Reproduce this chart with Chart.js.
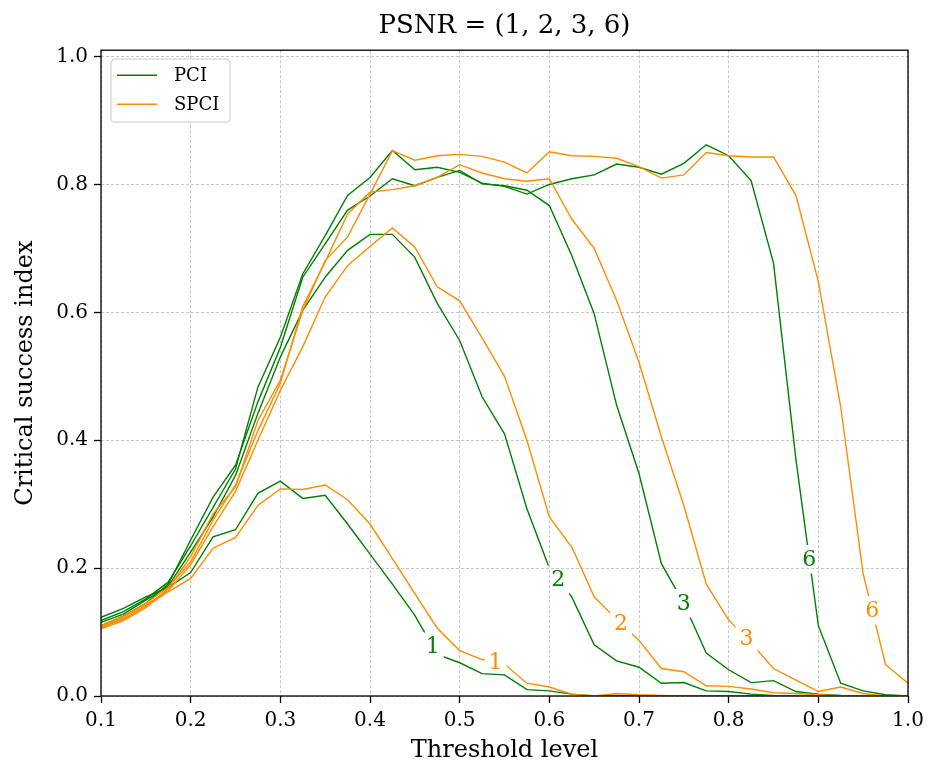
<!DOCTYPE html>
<html>
<head>
<meta charset="utf-8">
<title>PSNR = (1, 2, 3, 6)</title>
<script src="https://cdn.jsdelivr.net/npm/chart.js@4.4.1/dist/chart.umd.min.js"></script>
<style>
    html, body { margin: 0; padding: 0; background: #ffffff; }
    #wrap { width: 932px; height: 765px; }
</style>
</head>
<body>
<div id="wrap"><canvas id="lineChart" width="932" height="765"></canvas></div>
<script>
// threshold levels on the x axis
const thresholds = [
    0.1, 0.125, 0.15, 0.175, 0.2, 0.225, 0.25, 0.275, 0.3, 0.325,
    0.35, 0.375, 0.4, 0.425, 0.45, 0.475, 0.5, 0.525, 0.55, 0.575,
    0.6, 0.625, 0.65, 0.675, 0.7, 0.725, 0.75, 0.775, 0.8, 0.825,
    0.85, 0.875, 0.9, 0.925, 0.95, 0.975, 1.0
];

const psnrLevels = ['1', '2', '3', '6'];
const xTicks = [0.1, 0.2, 0.3, 0.4, 0.5, 0.6, 0.7, 0.8, 0.9, 1.0];
const yTicks = [0.0, 0.2, 0.4, 0.6, 0.8, 1.0];

// PCI, one series per PSNR level
const pci1 = [0.123, 0.137, 0.155, 0.17, 0.193, 0.249, 0.26, 0.317, 0.336, 0.309,
    0.314, 0.269, 0.222, 0.175, 0.126, 0.065, 0.052, 0.035, 0.033, 0.010,
    0.008, 0.003, 0.0, 0.001, 0.0, 0, 0, 0, 0, 0,
    0, 0, 0, 0, 0, 0, 0];
const pci2 = [0.115, 0.128, 0.15, 0.172, 0.225, 0.28, 0.345, 0.442, 0.53, 0.603,
    0.655, 0.697, 0.722, 0.722, 0.686, 0.614, 0.556, 0.468, 0.41, 0.293,
    0.2, 0.155, 0.08, 0.055, 0.045, 0.02, 0.021, 0.008, 0.007, 0.003,
    0.001, 0, 0, 0, 0, 0, 0];
const pci3 = [0.11, 0.125, 0.145, 0.175, 0.244, 0.311, 0.361, 0.46, 0.545, 0.655,
    0.707, 0.76, 0.782, 0.809, 0.798, 0.811, 0.822, 0.801, 0.798, 0.791,
    0.767, 0.689, 0.598, 0.455, 0.348, 0.207, 0.145, 0.067, 0.041, 0.021,
    0.024, 0.007, 0.003, 0.001, 0, 0, 0];
const pci6 = [0.118, 0.132, 0.152, 0.178, 0.235, 0.295, 0.355, 0.483, 0.561, 0.66,
    0.72, 0.783, 0.811, 0.853, 0.823, 0.827, 0.819, 0.802, 0.797, 0.785,
    0.8, 0.809, 0.815, 0.832, 0.827, 0.816, 0.833, 0.862, 0.845, 0.806,
    0.677, 0.37, 0.11, 0.02, 0.008, 0.002, 0];

// SPCI, one series per PSNR level
const spci1 = [0.107, 0.12, 0.14, 0.163, 0.184, 0.231, 0.248, 0.298, 0.324, 0.323,
    0.33, 0.307, 0.269, 0.215, 0.16, 0.106, 0.071, 0.057, 0.05, 0.02,
    0.014, 0.003, 0.0, 0.004, 0.002, 0.001, 0, 0, 0, 0,
    0, 0, 0, 0, 0, 0, 0];
const spci2 = [0.108, 0.122, 0.142, 0.165, 0.205, 0.265, 0.32, 0.4, 0.478, 0.546,
    0.624, 0.673, 0.703, 0.732, 0.702, 0.64, 0.618, 0.56, 0.5, 0.4,
    0.28, 0.233, 0.155, 0.12, 0.087, 0.043, 0.038, 0.016, 0.015, 0.011,
    0.005, 0.004, 0.002, 0, 0, 0, 0];
const spci3 = [0.11, 0.125, 0.145, 0.17, 0.21, 0.275, 0.33, 0.415, 0.489, 0.609,
    0.679, 0.754, 0.788, 0.792, 0.798, 0.811, 0.831, 0.818, 0.809, 0.805,
    0.809, 0.746, 0.7, 0.619, 0.522, 0.405, 0.298, 0.175, 0.119, 0.083,
    0.043, 0.025, 0.007, 0.014, 0.004, 0, 0];
const spci6 = [0.105, 0.118, 0.138, 0.168, 0.218, 0.285, 0.327, 0.431, 0.494, 0.603,
    0.681, 0.718, 0.785, 0.853, 0.838, 0.845, 0.847, 0.844, 0.835, 0.818,
    0.851, 0.845, 0.844, 0.841, 0.828, 0.81, 0.815, 0.85, 0.845, 0.843,
    0.843, 0.783, 0.648, 0.452, 0.191, 0.049, 0.02];

// threshold where each inline PSNR label sits
const pciLabelAt = [0.47, 0.61, 0.75, 0.89];
const spciLabelAt = [0.54, 0.68, 0.82, 0.96];

const FONT = "'DejaVu Serif', 'Liberation Serif', serif";
const pciColor = '#008000';
const spciColor = '#ff8c00';

function toPoints(values) {
    return values.map((v, i) => ({ x: thresholds[i], y: v }));
}

function valueAt(values, x) {
    for (let i = 0; i < thresholds.length - 1; i++) {
        const x0 = thresholds[i], x1 = thresholds[i + 1];
        if (x >= x0 && x <= x1) {
            const t = (x - x0) / (x1 - x0);
            return values[i] + t * (values[i + 1] - values[i]);
        }
    }
    return values[values.length - 1];
}

function makeDataset(name, values, color, level, labelX, order) {
    return {
        label: name,
        data: toPoints(values),
        borderColor: color,
        backgroundColor: color,
        borderWidth: 1.4,
        pointRadius: 0,
        tension: 0,
        fill: false,
        order: order,
        inline: { text: level, x: labelX, y: valueAt(values, labelX) }
    };
}

const pciSeries = [pci1, pci2, pci3, pci6];
const spciSeries = [spci1, spci2, spci3, spci6];

const datasets = [];
pciSeries.forEach((values, i) => {
    datasets.push(makeDataset(i === 0 ? 'PCI' : 'PCI ' + psnrLevels[i], values, pciColor, psnrLevels[i], pciLabelAt[i], 1));
});
spciSeries.forEach((values, i) => {
    datasets.push(makeDataset(i === 0 ? 'SPCI' : 'SPCI ' + psnrLevels[i], values, spciColor, psnrLevels[i], spciLabelAt[i], 0));
});

const LABEL_SIZE = 22;

function labelBox(chart, ds) {
    const xs = chart.scales.x, ys = chart.scales.y;
    const ctx = chart.ctx;
    ctx.save();
    ctx.font = LABEL_SIZE + 'px ' + FONT;
    const w = ctx.measureText(ds.inline.text).width;
    ctx.restore();
    const cx = xs.getPixelForValue(ds.inline.x);
    const cy = ys.getPixelForValue(ds.inline.y);
    const bw = w + 8, bh = LABEL_SIZE * 0.75 + 12;
    return { cx, cy, x: cx - bw / 2, y: cy - bh / 2, w: bw, h: bh };
}

// break each line where its PSNR label goes, then write the label
const inlineLabels = {
    id: 'inlineLabels',
    beforeDatasetDraw(chart, args) {
        const ds = chart.data.datasets[args.index];
        const b = labelBox(chart, ds);
        const ctx = chart.ctx;
        ctx.save();
        ctx.beginPath();
        ctx.rect(0, 0, chart.width, chart.height);
        ctx.rect(b.x, b.y, b.w, b.h);
        ctx.clip('evenodd');
    },
    afterDatasetDraw(chart, args) {
        const ds = chart.data.datasets[args.index];
        const ctx = chart.ctx;
        ctx.restore();
        const b = labelBox(chart, ds);
        ctx.save();
        ctx.font = LABEL_SIZE + 'px ' + FONT;
        ctx.fillStyle = ds.borderColor;
        ctx.textAlign = 'center';
        ctx.textBaseline = 'middle';
        ctx.fillText(ds.inline.text, b.cx, b.cy + 1);
        ctx.restore();
    }
};

// full box round the axes plus a matplotlib style legend
const frameAndLegend = {
    id: 'frameAndLegend',
    afterDraw(chart) {
        const { ctx, chartArea: a } = chart;
        ctx.save();
        ctx.strokeStyle = '#000000';
        ctx.lineWidth = 1.3;
        ctx.strokeRect(a.left, a.top, a.right - a.left, a.bottom - a.top);

        const entries = [
            { text: 'PCI', color: pciColor },
            { text: 'SPCI', color: spciColor }
        ];
        const lx = a.left + 10, ly = a.top + 9, lw = 119, lh = 63, r = 4;
        ctx.beginPath();
        ctx.moveTo(lx + r, ly);
        ctx.lineTo(lx + lw - r, ly);
        ctx.quadraticCurveTo(lx + lw, ly, lx + lw, ly + r);
        ctx.lineTo(lx + lw, ly + lh - r);
        ctx.quadraticCurveTo(lx + lw, ly + lh, lx + lw - r, ly + lh);
        ctx.lineTo(lx + r, ly + lh);
        ctx.quadraticCurveTo(lx, ly + lh, lx, ly + lh - r);
        ctx.lineTo(lx, ly + r);
        ctx.quadraticCurveTo(lx, ly, lx + r, ly);
        ctx.closePath();
        ctx.fillStyle = 'rgba(255,255,255,0.8)';
        ctx.fill();
        ctx.strokeStyle = '#d6d6d6';
        ctx.lineWidth = 1.2;
        ctx.stroke();

        ctx.font = '18px ' + FONT;
        ctx.textBaseline = 'middle';
        ctx.textAlign = 'left';
        entries.forEach((e, i) => {
            const y = ly + 16 + i * 29;
            ctx.strokeStyle = e.color;
            ctx.lineWidth = 1.4;
            ctx.beginPath();
            ctx.moveTo(lx + 6, y);
            ctx.lineTo(lx + 46, y);
            ctx.stroke();
            ctx.fillStyle = '#000000';
            ctx.fillText(e.text, lx + 63, y + 1);
        });
        ctx.restore();
    }
};

const ctx = document.getElementById('lineChart').getContext('2d');
const chart = new Chart(ctx, {
    type: 'line',
    data: { datasets: datasets },
    options: {
        responsive: false,
        animation: false,
        devicePixelRatio: 1,
        layout: { padding: { left: 0, right: 24, top: 0, bottom: 0 } },
        scales: {
            x: {
                type: 'linear',
                min: 0.1,
                max: 1.0,
                afterBuildTicks: scale => { scale.ticks = xTicks.map(v => ({ value: v })); },
                afterFit: scale => { scale.height = 69; },
                ticks: {
                    color: '#000000',
                    padding: 6,
                    maxRotation: 0,
                    font: { family: FONT, size: 20 },
                    callback: value => value.toFixed(1)
                },
                grid: {
                    color: '#b8b8b8',
                    lineWidth: 0.8,
                    drawTicks: true,
                    tickLength: 7,
                    tickColor: '#000000',
                    tickWidth: 1.3
                },
                border: { display: false, dash: [3, 2] },
                title: {
                    display: true,
                    text: 'Threshold level',
                    color: '#000000',
                    font: { family: FONT, size: 24 },
                    padding: { top: 0, bottom: 0 }
                }
            },
            y: {
                type: 'linear',
                min: 0,
                max: 1.01,
                afterBuildTicks: scale => { scale.ticks = yTicks.map(v => ({ value: v })); },
                afterFit: scale => { scale.width = 101; },
                ticks: {
                    color: '#000000',
                    padding: 6,
                    font: { family: FONT, size: 20 },
                    callback: value => value.toFixed(1)
                },
                grid: {
                    color: '#b8b8b8',
                    lineWidth: 0.8,
                    drawTicks: true,
                    tickLength: 7,
                    tickColor: '#000000',
                    tickWidth: 1.3
                },
                border: { display: false, dash: [3, 2] },
                title: {
                    display: true,
                    text: 'Critical success index',
                    color: '#000000',
                    font: { family: FONT, size: 24 },
                    padding: { top: 11, bottom: 0 }
                }
            }
        },
        plugins: {
            legend: { display: false },
            tooltip: { enabled: false },
            title: {
                display: true,
                fullSize: false,
                text: 'PSNR = (1, 2, 3, 6)',
                color: '#000000',
                font: { family: FONT, size: 26, weight: 'normal' },
                padding: { top: 11, bottom: 8 }
            }
        }
    },
    plugins: [inlineLabels, frameAndLegend]
});
</script>
</body>
</html>
